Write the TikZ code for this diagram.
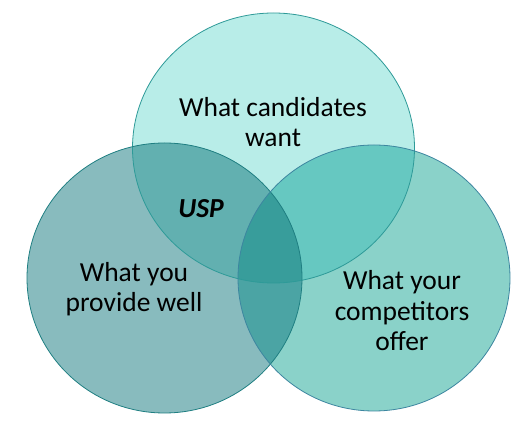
\documentclass[tikz,border=0pt]{standalone}
\usepackage{fontspec}
\setmainfont{Carlito}
\definecolor{topc}{HTML}{B8EDE8}
\definecolor{leftc}{HTML}{88BBBE}
\definecolor{rightc}{HTML}{8AD2C9}
\definecolor{tlc}{HTML}{62B0B0}
\definecolor{trc}{HTML}{66C8C1}
\definecolor{lrc}{HTML}{4BA4A4}
\definecolor{allc}{HTML}{389D9B}
\definecolor{topb}{HTML}{2E9A98}
\definecolor{leftb}{HTML}{1F7F82}
\definecolor{rightb}{HTML}{3D86A0}
\tikzset{
  label/.style={font=\fontsize{27.5}{30.5}\selectfont, align=center, text=black, inner sep=0pt},
  ring/.style={line width=0.8pt}
}
\def\topE{(273.5,148) ellipse [x radius=141, y radius=135]}
\def\leftE{(164.5,278) ellipse [x radius=137.5, y radius=135]}
\def\rightE{(374,278) ellipse [x radius=136, y radius=133]}
\begin{document}
\begin{tikzpicture}[x=1pt,y=-1pt]
\useasboundingbox (0,0) rectangle (528,427);
\fill[white] (0,0) rectangle (528,427);
% solo fills
\fill[topc] \topE;
\fill[leftc] \leftE;
\fill[rightc] \rightE;
% pairwise overlaps
\begin{scope}
  \clip \topE;
  \fill[tlc] \leftE;
  \fill[trc] \rightE;
\end{scope}
\begin{scope}
  \clip \leftE;
  \fill[lrc] \rightE;
\end{scope}
\begin{scope}
  \clip \topE;
  \clip \leftE;
  \fill[allc] \rightE;
\end{scope}
% borders
\draw[ring, topb] \topE;
\draw[ring, leftb] \leftE;
\draw[ring, rightb] \rightE;
% labels
\node[label] (want) at (273,122) {What candidates\\want};
\node[label, font=\fontsize{27.5}{30}\selectfont\bfseries\itshape] (usp) at (201,209) {USP};
\node[label] (provide) at (134,289) {What you\\provide well};
\node[label] (offer) at (402,311) {What your\\competitors\\offer};
\end{tikzpicture}
\end{document}
